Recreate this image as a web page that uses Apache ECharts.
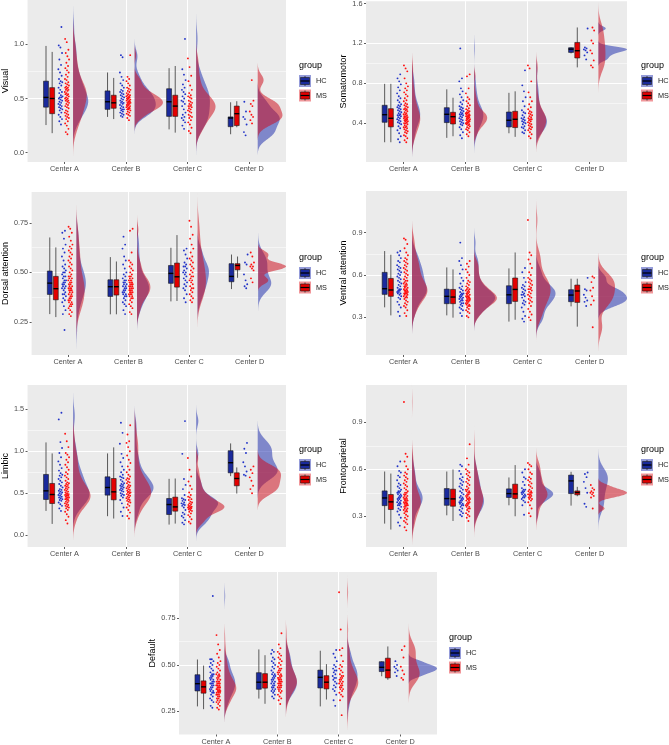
<!DOCTYPE html>
<html>
<head>
<meta charset="utf-8">
<script src="https://cdn.jsdelivr.net/npm/echarts@6/dist/echarts.min.js"></script>
<style>html,body{margin:0;padding:0;background:#fff}#chart{width:669px;height:745px}</style>
</head>
<body>
<div id="chart"></div>
<script>
// ---------- DATA ----------
const centers = ['Center A', 'Center B', 'Center C', 'Center D'];
const groups = ['HC', 'MS'];
const panelTitles = ['Visual', 'Somatomotor', 'Dorsal attention', 'Ventral attention', 'Limbic', 'Frontoparietal', 'Default'];

// y tick values / labels / minor grid values
const visualTicks = [0, 0.5, 1.0], visualTickLabels = ['0.0', '0.5', '1.0'], visualMinor = [0.25, 0.75, 1.25];
const somatoTicks = [0.4, 0.8, 1.2, 1.6], somatoTickLabels = ['0.4', '0.8', '1.2', '1.6'], somatoMinor = [0.2, 0.6, 1.0, 1.4];
const dorsalTicks = [0.25, 0.5, 0.75], dorsalTickLabels = ['0.25', '0.50', '0.75'], dorsalMinor = [0.125, 0.375, 0.625, 0.875];
const ventralTicks = [0.3, 0.6, 0.9], ventralTickLabels = ['0.3', '0.6', '0.9'], ventralMinor = [0.15, 0.45, 0.75, 1.05];
const limbicTicks = [0, 0.5, 1.0, 1.5], limbicTickLabels = ['0.0', '0.5', '1.0', '1.5'], limbicMinor = [0.25, 0.75, 1.25, 1.75];
const frontoTicks = [0.3, 0.6, 0.9], frontoTickLabels = ['0.3', '0.6', '0.9'], frontoMinor = [0.15, 0.45, 0.75, 1.05];
const defaultTicks = [0.25, 0.5, 0.75], defaultTickLabels = ['0.25', '0.50', '0.75'], defaultMinor = [0.125, 0.375, 0.625, 0.875];

// box stats per center: [lower whisker, Q1, median, Q3, upper whisker]
const visualBoxHC = [[0.255,0.42,0.51,0.66,0.985],[0.33,0.40,0.47,0.57,0.74],[0.215,0.335,0.47,0.59,0.78],[0.17,0.24,0.32,0.33,0.465]];
const visualBoxMS = [[0.18,0.36,0.50,0.60,0.93],[0.31,0.41,0.46,0.53,0.69],[0.185,0.335,0.43,0.53,0.80],[0.235,0.25,0.36,0.43,0.475]];
const somatoBoxHC = [[0.21,0.41,0.486,0.58,0.795],[0.254,0.407,0.49,0.556,0.74],[0.30,0.363,0.43,0.513,0.705],[1.10,1.11,1.143,1.157,1.16]];
const somatoBoxMS = [[0.21,0.364,0.45,0.546,0.795],[0.27,0.393,0.466,0.51,0.656],[0.264,0.357,0.44,0.52,0.72],[0.96,1.054,1.127,1.21,1.36]];
const dorsalBoxHC = [[0.29,0.389,0.446,0.507,0.676],[0.289,0.379,0.428,0.463,0.577],[0.354,0.445,0.495,0.535,0.624],[0.416,0.453,0.48,0.544,0.59]];
const dorsalBoxMS = [[0.275,0.362,0.418,0.48,0.626],[0.289,0.386,0.428,0.463,0.555],[0.356,0.426,0.478,0.547,0.688],[0.473,0.513,0.535,0.544,0.58]];
const ventralBoxHC = [[0.371,0.463,0.503,0.619,0.77],[0.314,0.397,0.449,0.50,0.654],[0.27,0.397,0.46,0.524,0.647],[0.378,0.411,0.458,0.496,0.574]];
const ventralBoxMS = [[0.314,0.449,0.494,0.576,0.744],[0.298,0.397,0.444,0.498,0.64],[0.283,0.413,0.498,0.579,0.76],[0.234,0.406,0.487,0.529,0.574]];
const limbicBoxHC = [[0.29,0.426,0.529,0.724,1.106],[0.227,0.478,0.569,0.696,0.975],[0.127,0.247,0.366,0.438,0.672],[0.704,0.744,0.864,1.007,1.094]];
const limbicBoxMS = [[0.135,0.378,0.485,0.617,0.975],[0.199,0.422,0.517,0.676,1.047],[0.139,0.287,0.338,0.454,0.676],[0.497,0.589,0.676,0.744,0.808]];
const frontoBoxHC = [[0.253,0.368,0.417,0.462,0.586],[0.306,0.37,0.413,0.477,0.586],[0.37,0.42,0.445,0.475,0.548],[0.368,0.445,0.526,0.563,0.584]];
const frontoBoxMS = [[0.215,0.343,0.392,0.439,0.573],[0.27,0.364,0.411,0.473,0.599],[0.30,0.413,0.443,0.505,0.627],[0.428,0.437,0.452,0.462,0.488]];
const defaultBoxHC = [[0.277,0.36,0.399,0.447,0.529],[0.319,0.369,0.407,0.458,0.583],[0.277,0.376,0.433,0.472,0.576],[0.439,0.464,0.487,0.517,0.519]];
const defaultBoxMS = [[0.262,0.348,0.382,0.414,0.496],[0.291,0.375,0.407,0.453,0.552],[0.314,0.371,0.407,0.442,0.504],[0.42,0.43,0.472,0.536,0.599]];

// individual subject values per center (A, B, C, D)
const visualHC = [
 [0.26,0.29,0.31,0.33,0.35,0.37,0.39,0.40,0.41,0.42,0.43,0.44,0.45,0.46,0.47,0.48,0.49,0.50,0.51,0.51,0.52,0.53,0.55,0.56,0.58,0.60,0.62,0.64,0.65,0.66,0.68,0.71,0.74,0.77,0.81,0.86,0.92,0.97,0.99,1.16],
 [0.33,0.34,0.35,0.36,0.37,0.38,0.39,0.40,0.40,0.41,0.42,0.43,0.44,0.45,0.46,0.46,0.47,0.48,0.49,0.50,0.51,0.52,0.53,0.54,0.55,0.56,0.57,0.58,0.60,0.62,0.64,0.67,0.70,0.74,0.88,0.90],
 [0.22,0.25,0.28,0.30,0.32,0.33,0.35,0.37,0.40,0.43,0.45,0.47,0.48,0.50,0.52,0.54,0.56,0.58,0.60,0.63,0.67,0.72,0.77,1.05],
 [0.16,0.19,0.26,0.31,0.33,0.38,0.47]];
const visualMS = [
 [0.17,0.19,0.22,0.25,0.27,0.29,0.31,0.32,0.33,0.34,0.35,0.36,0.37,0.38,0.39,0.41,0.42,0.43,0.44,0.45,0.46,0.47,0.48,0.48,0.49,0.50,0.50,0.51,0.52,0.53,0.54,0.54,0.55,0.56,0.57,0.58,0.58,0.59,0.60,0.60,0.61,0.62,0.63,0.64,0.65,0.67,0.68,0.70,0.72,0.74,0.76,0.78,0.80,0.83,0.86,0.89,0.92,0.95,1.02,1.05],
 [0.30,0.32,0.34,0.35,0.36,0.37,0.38,0.39,0.40,0.40,0.41,0.41,0.42,0.42,0.43,0.43,0.44,0.44,0.45,0.45,0.46,0.46,0.46,0.47,0.47,0.48,0.48,0.49,0.49,0.50,0.50,0.51,0.51,0.52,0.52,0.53,0.53,0.54,0.55,0.56,0.57,0.58,0.59,0.60,0.62,0.64,0.66,0.68,0.70,0.90],
 [0.18,0.20,0.23,0.26,0.28,0.30,0.32,0.33,0.34,0.35,0.37,0.38,0.39,0.40,0.41,0.42,0.43,0.43,0.44,0.45,0.46,0.47,0.48,0.50,0.51,0.52,0.53,0.55,0.58,0.62,0.66,0.71,0.79,0.87],
 [0.27,0.30,0.33,0.35,0.38,0.43,0.45,0.48,0.67]];
const somatoHC = [
 [0.21,0.24,0.27,0.30,0.33,0.35,0.37,0.39,0.40,0.41,0.42,0.43,0.44,0.45,0.46,0.47,0.48,0.48,0.49,0.50,0.51,0.52,0.53,0.54,0.55,0.56,0.57,0.58,0.59,0.61,0.63,0.65,0.67,0.70,0.73,0.76,0.79,0.82,0.85,0.89],
 [0.25,0.28,0.31,0.34,0.36,0.38,0.39,0.40,0.41,0.42,0.43,0.44,0.45,0.46,0.47,0.48,0.49,0.49,0.50,0.51,0.52,0.53,0.54,0.55,0.56,0.57,0.59,0.61,0.63,0.66,0.69,0.72,0.75,0.82,0.85,1.15],
 [0.30,0.31,0.33,0.35,0.36,0.37,0.39,0.40,0.41,0.42,0.43,0.44,0.45,0.46,0.48,0.50,0.51,0.53,0.57,0.62,0.66,0.72,0.78,0.93],
 [1.04,1.08,1.11,1.13,1.14,1.15,1.16,1.35]];
const somatoMS = [
 [0.21,0.23,0.25,0.27,0.28,0.30,0.31,0.32,0.33,0.34,0.35,0.36,0.36,0.37,0.38,0.39,0.40,0.40,0.41,0.42,0.42,0.43,0.43,0.44,0.44,0.45,0.45,0.46,0.46,0.47,0.47,0.48,0.49,0.49,0.50,0.51,0.52,0.53,0.54,0.54,0.55,0.56,0.57,0.58,0.59,0.60,0.62,0.63,0.65,0.67,0.69,0.71,0.73,0.75,0.77,0.80,0.85,0.92,0.95,0.98],
 [0.27,0.29,0.31,0.33,0.34,0.35,0.36,0.37,0.38,0.39,0.39,0.40,0.40,0.41,0.41,0.42,0.42,0.43,0.43,0.44,0.44,0.45,0.45,0.46,0.46,0.47,0.47,0.47,0.48,0.48,0.49,0.49,0.50,0.50,0.51,0.51,0.52,0.53,0.54,0.55,0.57,0.58,0.60,0.62,0.64,0.66,0.70,0.75,0.87,0.89],
 [0.25,0.27,0.29,0.31,0.33,0.34,0.35,0.36,0.37,0.38,0.39,0.40,0.41,0.42,0.43,0.44,0.44,0.45,0.46,0.47,0.48,0.49,0.50,0.51,0.52,0.54,0.56,0.59,0.62,0.66,0.71,0.82,0.95,0.98],
 [0.96,0.98,1.03,1.10,1.13,1.20,1.23,1.33,1.36]];
const dorsalHC = [
 [0.21,0.29,0.31,0.33,0.35,0.36,0.37,0.38,0.39,0.39,0.40,0.41,0.42,0.42,0.43,0.43,0.44,0.44,0.45,0.45,0.46,0.46,0.47,0.48,0.48,0.49,0.50,0.50,0.51,0.52,0.53,0.54,0.56,0.58,0.60,0.62,0.64,0.67,0.70,0.71],
 [0.29,0.31,0.33,0.34,0.35,0.36,0.37,0.38,0.38,0.39,0.39,0.40,0.40,0.41,0.41,0.42,0.42,0.43,0.43,0.44,0.44,0.45,0.45,0.46,0.46,0.47,0.48,0.49,0.50,0.52,0.54,0.56,0.58,0.62,0.64,0.68],
 [0.35,0.37,0.39,0.41,0.42,0.43,0.44,0.45,0.46,0.47,0.48,0.49,0.50,0.50,0.51,0.52,0.53,0.53,0.54,0.55,0.57,0.59,0.61,0.62],
 [0.42,0.43,0.44,0.46,0.49,0.54,0.55,0.59]];
const dorsalMS = [
 [0.28,0.29,0.30,0.31,0.32,0.33,0.33,0.34,0.34,0.35,0.35,0.36,0.36,0.37,0.37,0.38,0.38,0.39,0.39,0.40,0.40,0.41,0.41,0.41,0.42,0.42,0.42,0.43,0.43,0.44,0.44,0.45,0.45,0.46,0.46,0.47,0.47,0.48,0.48,0.49,0.50,0.51,0.52,0.53,0.54,0.55,0.56,0.57,0.58,0.59,0.60,0.61,0.62,0.63,0.64,0.66,0.68,0.70,0.72,0.73],
 [0.29,0.30,0.32,0.33,0.34,0.35,0.36,0.37,0.37,0.38,0.38,0.39,0.39,0.39,0.40,0.40,0.40,0.41,0.41,0.41,0.42,0.42,0.42,0.43,0.43,0.43,0.44,0.44,0.44,0.45,0.45,0.45,0.46,0.46,0.46,0.47,0.47,0.48,0.48,0.49,0.50,0.51,0.52,0.53,0.54,0.55,0.56,0.60,0.71,0.72],
 [0.35,0.36,0.37,0.38,0.39,0.40,0.41,0.42,0.42,0.43,0.44,0.45,0.46,0.46,0.47,0.48,0.48,0.49,0.50,0.51,0.52,0.53,0.54,0.55,0.56,0.57,0.58,0.60,0.62,0.64,0.67,0.69,0.73,0.76],
 [0.45,0.47,0.51,0.52,0.53,0.53,0.54,0.55,0.58,0.60]];
const ventralHC = [
 [0.31,0.34,0.37,0.39,0.41,0.43,0.44,0.45,0.46,0.47,0.47,0.48,0.48,0.49,0.49,0.50,0.50,0.51,0.52,0.53,0.54,0.55,0.56,0.57,0.58,0.59,0.60,0.61,0.62,0.63,0.64,0.65,0.66,0.67,0.69,0.70,0.72,0.74,0.76,0.77],
 [0.31,0.33,0.35,0.36,0.37,0.38,0.39,0.40,0.40,0.41,0.42,0.42,0.43,0.43,0.44,0.44,0.45,0.45,0.46,0.46,0.47,0.47,0.48,0.49,0.50,0.51,0.52,0.54,0.56,0.58,0.61,0.64,0.67,0.70,0.72,0.83],
 [0.27,0.29,0.31,0.34,0.37,0.39,0.40,0.41,0.42,0.44,0.45,0.46,0.46,0.47,0.48,0.49,0.50,0.51,0.52,0.53,0.55,0.58,0.62,0.65],
 [0.38,0.41,0.42,0.44,0.46,0.49,0.50,0.58]];
const ventralMS = [
 [0.31,0.33,0.35,0.37,0.38,0.39,0.40,0.41,0.42,0.43,0.44,0.44,0.45,0.45,0.46,0.46,0.47,0.47,0.47,0.48,0.48,0.48,0.49,0.49,0.49,0.50,0.50,0.51,0.51,0.52,0.52,0.53,0.53,0.54,0.54,0.55,0.56,0.56,0.57,0.58,0.59,0.60,0.61,0.62,0.63,0.64,0.65,0.66,0.67,0.68,0.69,0.70,0.71,0.72,0.74,0.76,0.79,0.82,0.85,0.86],
 [0.30,0.31,0.33,0.34,0.35,0.36,0.37,0.38,0.38,0.39,0.39,0.40,0.40,0.41,0.41,0.42,0.42,0.42,0.43,0.43,0.43,0.44,0.44,0.44,0.45,0.45,0.45,0.46,0.46,0.47,0.47,0.48,0.48,0.49,0.49,0.50,0.50,0.51,0.52,0.53,0.54,0.55,0.56,0.58,0.60,0.62,0.64,0.66,0.68,0.70],
 [0.28,0.30,0.32,0.34,0.36,0.38,0.40,0.41,0.42,0.43,0.44,0.45,0.46,0.47,0.48,0.49,0.50,0.50,0.51,0.52,0.53,0.54,0.55,0.56,0.57,0.58,0.60,0.62,0.65,0.68,0.71,0.74,0.76,0.99],
 [0.23,0.39,0.42,0.45,0.49,0.51,0.55,0.58,0.59]];
const limbicHC = [
 [0.29,0.32,0.35,0.37,0.39,0.41,0.42,0.43,0.44,0.45,0.46,0.47,0.48,0.49,0.50,0.51,0.52,0.53,0.54,0.55,0.57,0.59,0.61,0.63,0.65,0.67,0.69,0.71,0.72,0.74,0.77,0.80,0.84,0.88,0.93,0.98,1.04,1.11,1.38,1.46],
 [0.23,0.28,0.33,0.38,0.42,0.45,0.47,0.48,0.49,0.50,0.52,0.53,0.54,0.55,0.56,0.57,0.58,0.59,0.60,0.61,0.62,0.64,0.66,0.68,0.69,0.70,0.72,0.75,0.78,0.82,0.87,0.92,0.97,1.09,1.22,1.34],
 [0.13,0.15,0.18,0.21,0.23,0.25,0.27,0.30,0.33,0.35,0.36,0.37,0.38,0.39,0.41,0.42,0.43,0.44,0.48,0.55,0.60,0.67,0.97,1.36],
 [0.71,0.72,0.76,0.82,0.87,0.98,1.03,1.10]];
const limbicMS = [
 [0.14,0.18,0.22,0.25,0.28,0.30,0.32,0.33,0.34,0.35,0.36,0.37,0.38,0.39,0.40,0.41,0.42,0.43,0.43,0.44,0.45,0.45,0.46,0.47,0.47,0.48,0.48,0.49,0.49,0.50,0.51,0.52,0.53,0.54,0.55,0.56,0.57,0.58,0.59,0.60,0.61,0.62,0.63,0.65,0.67,0.69,0.71,0.73,0.75,0.78,0.81,0.84,0.87,0.90,0.93,0.96,0.98,1.05,1.12,1.21],
 [0.20,0.23,0.27,0.30,0.33,0.35,0.37,0.39,0.40,0.41,0.42,0.43,0.44,0.45,0.46,0.47,0.48,0.49,0.50,0.51,0.51,0.52,0.53,0.54,0.55,0.56,0.57,0.58,0.59,0.60,0.62,0.63,0.64,0.66,0.67,0.68,0.70,0.72,0.75,0.78,0.82,0.86,0.90,0.95,1.00,1.05,1.10,1.12,1.20,1.31],
 [0.14,0.16,0.19,0.22,0.24,0.26,0.28,0.29,0.30,0.31,0.32,0.32,0.33,0.33,0.34,0.34,0.35,0.36,0.37,0.38,0.39,0.40,0.42,0.43,0.45,0.46,0.48,0.51,0.55,0.59,0.64,0.70,0.78,0.92],
 [0.50,0.55,0.59,0.65,0.69,0.74,0.78,0.82]];
const frontoHC = [
 [0.24,0.26,0.29,0.31,0.33,0.34,0.35,0.36,0.37,0.37,0.38,0.38,0.39,0.39,0.40,0.40,0.41,0.41,0.42,0.42,0.43,0.43,0.44,0.44,0.45,0.45,0.46,0.46,0.47,0.48,0.49,0.50,0.51,0.53,0.55,0.56,0.58,0.59,0.62,0.65],
 [0.30,0.31,0.32,0.33,0.34,0.35,0.36,0.37,0.37,0.38,0.38,0.39,0.39,0.40,0.40,0.41,0.41,0.42,0.42,0.43,0.44,0.45,0.46,0.47,0.48,0.49,0.50,0.51,0.52,0.53,0.54,0.55,0.57,0.59,0.62,0.63],
 [0.31,0.37,0.39,0.40,0.41,0.42,0.42,0.43,0.43,0.44,0.44,0.45,0.45,0.46,0.46,0.47,0.47,0.48,0.50,0.52,0.54,0.55,0.58,0.60],
 [0.36,0.38,0.45,0.48,0.52,0.55,0.57,0.58]];
const frontoMS = [
 [0.21,0.23,0.25,0.26,0.27,0.28,0.29,0.30,0.31,0.32,0.33,0.33,0.34,0.34,0.35,0.35,0.36,0.36,0.37,0.37,0.37,0.38,0.38,0.38,0.39,0.39,0.39,0.40,0.40,0.40,0.41,0.41,0.41,0.42,0.42,0.43,0.43,0.44,0.44,0.45,0.45,0.46,0.47,0.48,0.49,0.50,0.51,0.52,0.53,0.54,0.55,0.56,0.57,0.58,0.60,0.62,0.65,0.68,0.70,1.03],
 [0.27,0.29,0.30,0.31,0.32,0.33,0.34,0.35,0.35,0.36,0.36,0.37,0.37,0.38,0.38,0.39,0.39,0.40,0.40,0.41,0.41,0.41,0.42,0.42,0.43,0.43,0.44,0.44,0.45,0.45,0.46,0.46,0.47,0.47,0.48,0.49,0.50,0.51,0.52,0.53,0.54,0.55,0.56,0.57,0.58,0.59,0.60,0.63,0.67,0.76],
 [0.30,0.32,0.35,0.37,0.39,0.40,0.41,0.41,0.42,0.42,0.43,0.43,0.44,0.44,0.44,0.45,0.45,0.46,0.46,0.47,0.48,0.49,0.50,0.51,0.52,0.53,0.54,0.55,0.57,0.58,0.60,0.62,0.63,0.64],
 [0.35,0.42,0.43,0.44,0.45,0.45,0.46,0.47,0.48,0.50]];
const defaultHC = [
 [0.27,0.28,0.30,0.31,0.32,0.33,0.34,0.35,0.35,0.36,0.36,0.37,0.37,0.38,0.38,0.39,0.39,0.40,0.40,0.40,0.41,0.41,0.42,0.42,0.43,0.43,0.44,0.44,0.45,0.45,0.46,0.47,0.48,0.49,0.50,0.51,0.52,0.53,0.53,0.87],
 [0.32,0.33,0.34,0.35,0.36,0.36,0.37,0.37,0.38,0.38,0.39,0.39,0.40,0.40,0.41,0.41,0.42,0.42,0.43,0.43,0.44,0.44,0.45,0.45,0.46,0.47,0.48,0.49,0.50,0.51,0.52,0.53,0.54,0.56,0.57,0.58],
 [0.28,0.31,0.34,0.36,0.37,0.38,0.39,0.40,0.41,0.42,0.43,0.43,0.44,0.45,0.46,0.47,0.47,0.48,0.49,0.50,0.52,0.54,0.56,0.58],
 [0.44,0.46,0.47,0.48,0.49,0.50,0.52]];
const defaultMS = [
 [0.26,0.27,0.28,0.29,0.30,0.30,0.31,0.31,0.32,0.32,0.33,0.33,0.34,0.34,0.34,0.35,0.35,0.35,0.36,0.36,0.36,0.36,0.37,0.37,0.37,0.37,0.38,0.38,0.38,0.38,0.39,0.39,0.39,0.39,0.40,0.40,0.40,0.41,0.41,0.41,0.42,0.42,0.43,0.43,0.44,0.44,0.45,0.45,0.46,0.47,0.48,0.49,0.50,0.51,0.52,0.54,0.56,0.58,0.61,0.66],
 [0.29,0.31,0.32,0.33,0.34,0.35,0.36,0.36,0.37,0.37,0.38,0.38,0.38,0.39,0.39,0.39,0.40,0.40,0.40,0.41,0.41,0.41,0.42,0.42,0.42,0.43,0.43,0.43,0.44,0.44,0.45,0.45,0.46,0.46,0.47,0.47,0.48,0.48,0.49,0.50,0.51,0.52,0.53,0.54,0.55,0.56,0.57,0.59,0.61,0.67],
 [0.23,0.31,0.33,0.34,0.35,0.36,0.37,0.37,0.38,0.38,0.39,0.39,0.40,0.40,0.41,0.41,0.42,0.42,0.43,0.43,0.44,0.44,0.45,0.46,0.47,0.48,0.49,0.50,0.52,0.55,0.58,0.59,0.69,0.89],
 [0.42,0.43,0.45,0.47,0.49,0.54,0.58,0.60]];

// ---------- LAYOUT / STYLE ----------
const FONT = '"Liberation Sans", Arial, Helvetica, sans-serif';
const panels = [
  {hc: visualHC, ms: visualMS, bhc: visualBoxHC, bms: visualBoxMS, ticks: visualTicks, labels: visualTickLabels, minor: visualMinor, range: [-0.086, 1.409], grid: [24, 0, 262, 162], gap: 17, leg: [299, 66]},
  {hc: somatoHC, ms: somatoMS, bhc: somatoBoxHC, bms: somatoBoxMS, ticks: somatoTicks, labels: somatoTickLabels, minor: somatoMinor, range: [0.012, 1.623], grid: [366, 0, 261, 162], gap: 15, leg: [641, 66]},
  {hc: dorsalHC, ms: dorsalMS, bhc: dorsalBoxHC, bms: dorsalBoxMS, ticks: dorsalTicks, labels: dorsalTickLabels, minor: dorsalMinor, range: [0.084, 0.905], grid: [28, 192, 258, 163], gap: 21, leg: [299, 258]},
  {hc: ventralHC, ms: ventralMS, bhc: ventralBoxHC, bms: ventralBoxMS, ticks: ventralTicks, labels: ventralTickLabels, minor: ventralMinor, range: [0.033, 1.196], grid: [366, 191, 261, 164], gap: 16, leg: [641, 258]},
  {hc: limbicHC, ms: limbicMS, bhc: limbicBoxHC, bms: limbicBoxMS, ticks: limbicTicks, labels: limbicTickLabels, minor: limbicMinor, range: [-0.14, 1.79], grid: [24, 385, 262, 162], gap: 17, leg: [299, 450]},
  {hc: frontoHC, ms: frontoMS, bhc: frontoBoxHC, bms: frontoBoxMS, ticks: frontoTicks, labels: frontoTickLabels, minor: frontoMinor, range: [0.1035, 1.139], grid: [366, 385, 261, 162], gap: 16, leg: [641, 450]},
  {hc: defaultHC, ms: defaultMS, bhc: defaultBoxHC, bms: defaultBoxMS, ticks: defaultTicks, labels: defaultTickLabels, minor: defaultMinor, range: [0.126, 0.999], grid: [179, 572, 258, 164], gap: 20, leg: [449, 638]}
];

const BOX_OFF = [-0.30, -0.20], BOX_W = 0.08;
const JIT_OFF = [-0.065, 0.04], JIT_W = 0.07;
const VIO_START = 0.14, VIO_W = 0.46;
const BOX_FILL = ['#1a2a9c', '#e30000'];
const PT_COL = ['#2233c8', '#ff1010'];
const VIO_FILL = ['rgba(20,35,170,0.5)', 'rgba(205,10,25,0.52)'];
const KEY_BG = ['rgba(20,35,170,0.45)', 'rgba(225,25,30,0.45)'];

// kernel density (gaussian, Silverman nrd0 bandwidth, tails extended 3 bw)
function kde(vals) {
  const s = vals.slice().sort((a, b) => a - b), n = s.length;
  const mean = s.reduce((a, b) => a + b, 0) / n;
  const sd = Math.sqrt(s.reduce((a, b) => a + (b - mean) * (b - mean), 0) / (n - 1));
  const q = p => { const h = (n - 1) * p, l = Math.floor(h); return s[l] + (h - l) * (s[Math.min(l + 1, n - 1)] - s[l]); };
  let lo = Math.min(sd, (q(0.75) - q(0.25)) / 1.34);
  if (!(lo > 0)) lo = sd || 0.05;
  const bw = 0.9 * lo * Math.pow(n, -0.2);
  const from = s[0] - 3 * bw, to = s[n - 1] + 3 * bw, m = 180, out = [];
  for (let k = 0; k < m; k++) {
    const y = from + (to - from) * k / (m - 1);
    let d = 0;
    for (const v of s) { const z = (y - v) / bw; d += Math.exp(-0.5 * z * z); }
    out.push([y, d / (n * bw * Math.sqrt(2 * Math.PI))]);
  }
  return out;
}

const grids = [], xAxes = [], yAxes = [], series = [], graphics = [];

panels.forEach((p, pi) => {
  grids.push({left: p.grid[0], top: p.grid[1], width: p.grid[2], height: p.grid[3], show: true, backgroundColor: '#EBEBEB', borderWidth: 0, containLabel: false});
  xAxes.push({
    gridIndex: pi, type: 'value', min: -0.6, max: 3.6, position: 'bottom',
    axisLine: {show: false, onZero: false},
    axisTick: {show: true, customValues: [0, 1, 2, 3], length: 2, lineStyle: {color: '#333', width: 0.8}},
    axisLabel: {customValues: [0, 1, 2, 3], formatter: v => centers[Math.round(v)] || '', fontSize: 7.3, color: '#4D4D4D', margin: 3.5, fontFamily: FONT},
    splitLine: {show: true, showMinLine: false, showMaxLine: false, lineStyle: {color: '#fff', width: 1.1}}
  });
  const step = p.ticks[1] - p.ticks[0];
  yAxes.push({
    gridIndex: pi, type: 'value', min: p.range[0], max: p.range[1], minInterval: step, maxInterval: step, position: 'left',
    name: panelTitles[pi], nameLocation: 'middle', nameGap: p.gap, nameRotate: 90,
    nameTextStyle: {fontSize: 9, color: '#000', fontFamily: FONT},
    axisLine: {show: false, onZero: false},
    axisTick: {show: true, customValues: p.ticks, length: 2, lineStyle: {color: '#333', width: 0.8}},
    axisLabel: {customValues: p.ticks, fontSize: 7.3, color: '#4D4D4D', margin: 3.5, fontFamily: FONT,
      formatter: v => { const k = p.ticks.findIndex(t => Math.abs(t - v) < 1e-6); return k >= 0 ? p.labels[k] : ''; }},
    splitLine: {show: true, showMinLine: false, showMaxLine: false, lineStyle: {color: '#fff', width: 1.1}}
  });
  yAxes.push({
    gridIndex: pi, type: 'value', min: p.range[0], max: p.range[1], position: 'left', minInterval: step / 2, maxInterval: step / 2,
    axisLine: {show: false, onZero: false}, axisTick: {show: false, customValues: p.minor}, axisLabel: {show: false, customValues: p.minor},
    splitLine: {show: true, showMinLine: false, showMaxLine: false, lineStyle: {color: '#fff', width: 0.5}}
  });

  const dens = [p.hc, p.ms].map(g => g.map(kde));
  let maxD = 0;
  dens.forEach(g => g.forEach(c => c.forEach(([, d]) => { if (d > maxD) maxD = d; })));

  [p.hc, p.ms].forEach((gvals, gi) => {
    // half violin
    series.push({
      type: 'custom', name: groups[gi], xAxisIndex: pi, yAxisIndex: 2 * pi, z: 2 + gi, silent: true,
      data: centers.map((c, ci) => [ci, p.bhc[ci][2]]),
      renderItem: (params, api) => {
        const ci = params.dataIndex, d = dens[gi][ci], x0 = ci + VIO_START;
        const pts = [api.coord([x0, d[0][0]])];
        d.forEach(([y, v]) => pts.push(api.coord([x0 + VIO_W * v / maxD, y])));
        pts.push(api.coord([x0, d[d.length - 1][0]]));
        return {type: 'polygon', shape: {points: pts}, style: {fill: VIO_FILL[gi], stroke: null}};
      }
    });
    // jittered points
    const pts = [];
    gvals.forEach((vals, ci) => vals.forEach((v, i) => {
      const fr = ((i + 1) * 0.6180339887) % 1;
      pts.push([ci + JIT_OFF[gi] + JIT_W * (fr - 0.5), v]);
    }));
    series.push({
      type: 'scatter', name: groups[gi], xAxisIndex: pi, yAxisIndex: 2 * pi, z: 5, silent: true,
      symbol: 'circle', symbolSize: 1.9, itemStyle: {color: PT_COL[gi], opacity: 1}, data: pts
    });
    // boxplot
    const boxes = gi === 0 ? p.bhc : p.bms;
    series.push({
      type: 'custom', name: groups[gi], xAxisIndex: pi, yAxisIndex: 2 * pi, z: 6, silent: true,
      encode: {x: 0, y: [1, 2, 3, 4, 5]},
      data: boxes.map((b, ci) => [ci].concat(b)),
      renderItem: (params, api) => {
        const xc = api.value(0) + BOX_OFF[gi];
        const lo = api.value(1), q1 = api.value(2), med = api.value(3), q3 = api.value(4), hi = api.value(5);
        const a = api.coord([xc, lo]), b = api.coord([xc, hi]);
        const tl = api.coord([xc - BOX_W / 2, q3]), br = api.coord([xc + BOX_W / 2, q1]);
        const ml = api.coord([xc - BOX_W / 2, med]), mr = api.coord([xc + BOX_W / 2, med]);
        return {type: 'group', children: [
          {type: 'line', shape: {x1: a[0], y1: a[1], x2: b[0], y2: b[1]}, style: {stroke: '#1a1a1a', lineWidth: 0.7}},
          {type: 'rect', shape: {x: tl[0], y: tl[1], width: br[0] - tl[0], height: br[1] - tl[1]}, style: {fill: BOX_FILL[gi], stroke: '#1a1a1a', lineWidth: 0.6}},
          {type: 'line', shape: {x1: ml[0], y1: ml[1], x2: mr[0], y2: mr[1]}, style: {stroke: '#000', lineWidth: 1.4}}
        ]};
      }
    });
  });

  // legend
  const [lx, ly] = p.leg;
  graphics.push({type: 'text', x: lx, y: ly, style: {text: 'group', font: '9px ' + FONT, fill: '#000', verticalAlign: 'middle', align: 'left'}});
  groups.forEach((g, gi) => {
    const ky = ly + 9 + gi * 14.5, K = 12;
    graphics.push({type: 'rect', shape: {x: lx, y: ky, width: K, height: K}, style: {fill: KEY_BG[gi]}});
    graphics.push({type: 'line', shape: {x1: lx + K / 2, y1: ky + 1, x2: lx + K / 2, y2: ky + K - 1}, style: {stroke: '#1a1a1a', lineWidth: 0.7}});
    graphics.push({type: 'rect', shape: {x: lx + 1.5, y: ky + 2.5, width: K - 3, height: K - 5}, style: {fill: BOX_FILL[gi], stroke: '#1a1a1a', lineWidth: 0.6}});
    graphics.push({type: 'line', shape: {x1: lx + 1.5, y1: ky + K / 2, x2: lx + K - 1.5, y2: ky + K / 2}, style: {stroke: '#000', lineWidth: 1.2}});
    graphics.push({type: 'text', x: lx + K + 5, y: ky + K / 2, style: {text: g, font: '7.3px ' + FONT, fill: '#1a1a1a', verticalAlign: 'middle', align: 'left'}});
  });
});

const chart = echarts.init(document.getElementById('chart'), null, {renderer: 'canvas'});
chart.setOption({
  animation: false,
  backgroundColor: '#fff',
  grid: grids, xAxis: xAxes, yAxis: yAxes, series: series,
  graphic: {elements: graphics}
});
</script>
</body>
</html>
